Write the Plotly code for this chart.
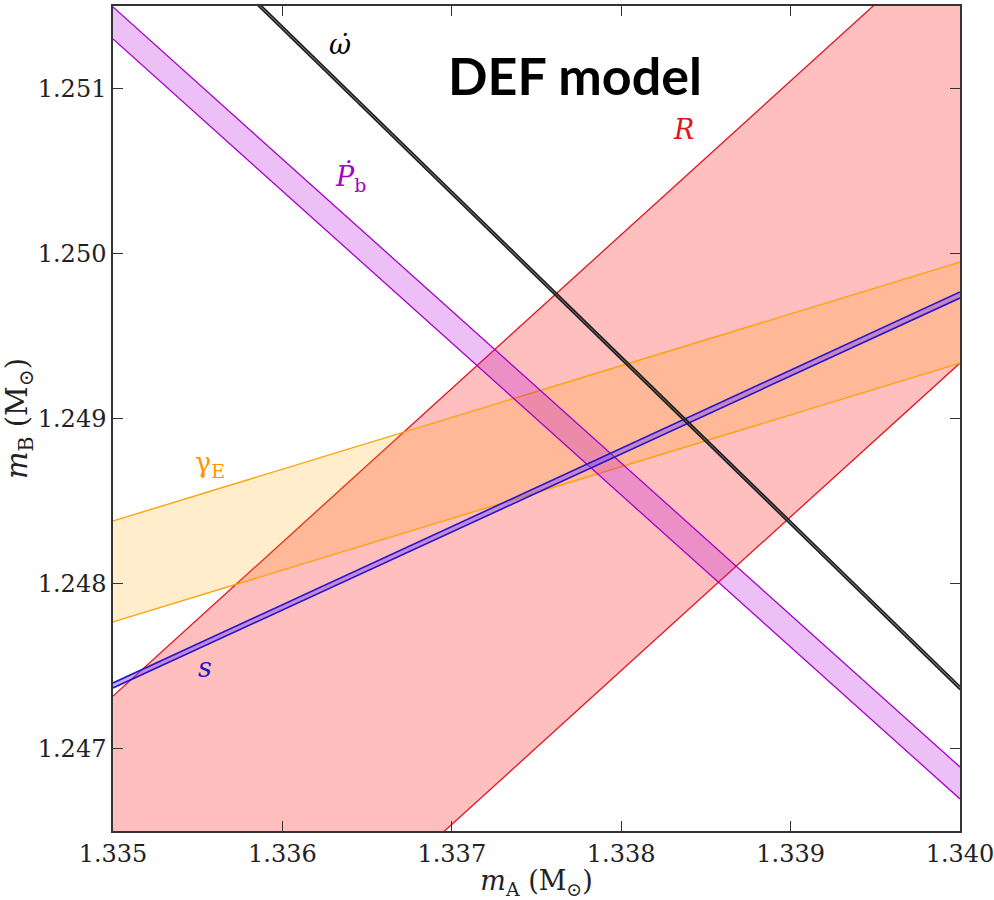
import plotly.graph_objects as go

# Band edges evaluated at the two ends of the m_A range
mA_ends = [1.335, 1.340]

R_upper = [1.247318, 1.251978]
R_lower = [1.244676, 1.249336]

gammaE_upper = [1.248379, 1.249948]
gammaE_lower = [1.247767, 1.249336]

Pbdot_upper = [1.251494, 1.246888]
Pbdot_lower = [1.251300, 1.246694]

s_upper = [1.247397, 1.249767]
s_lower = [1.247367, 1.249730]

omdot_upper = [1.252378, 1.247377]
omdot_lower = [1.252358, 1.247357]

x_range = [1.335, 1.340]
y_range = [1.2465, 1.2515]
x_ticks = [1.335, 1.336, 1.337, 1.338, 1.339, 1.340]
y_ticks = [1.247, 1.248, 1.249, 1.250, 1.251]

fig = go.Figure()


def band(upper, lower, line_color, fill_color, width=1.3):
    xs = mA_ends + mA_ends[::-1]
    ys = upper + lower[::-1]
    fig.add_trace(go.Scatter(x=xs + [xs[0]], y=ys + [ys[0]], mode="lines",
                             fill="toself", fillcolor=fill_color,
                             line=dict(width=0), hoverinfo="skip", showlegend=False))
    for edge in (upper, lower):
        fig.add_trace(go.Scatter(x=mA_ends, y=edge, mode="lines",
                                 line=dict(color=line_color, width=width),
                                 hoverinfo="skip", showlegend=False))


band(R_upper, R_lower, "rgb(225,20,30)", "rgba(255,0,0,0.25)")
band(gammaE_upper, gammaE_lower, "rgb(255,160,0)", "rgba(255,165,0,0.2)")
band(Pbdot_upper, Pbdot_lower, "rgb(165,0,200)", "rgba(180,0,220,0.25)")
band(s_upper, s_lower, "rgb(40,20,200)", "rgba(120,70,255,0.45)", width=1.6)
band(omdot_upper, omdot_lower, "rgb(30,30,30)", "rgba(60,60,60,0.6)", width=1.6)

serif = "DejaVu Serif"
labels = [
    ("<i>ω̇</i>", 1.33634, 1.251264, "black"),
    ("<i>Ṗ</i><sub>b</sub>", 1.3364, 1.25046, "rgb(165,0,200)"),
    ("<i>R</i>", 1.338365, 1.25075, "rgb(225,20,30)"),
    ("γ<sub>E</sub>", 1.335573, 1.24872, "rgb(255,150,0)"),
    ("<i>s</i>", 1.335543, 1.247488, "rgb(40,20,200)"),
]
for txt, lx, ly, col in labels:
    fig.add_annotation(x=lx, y=ly, text=txt, showarrow=False,
                       xanchor="center", yanchor="middle",
                       font=dict(family=serif, size=27, color=col))

fig.add_annotation(xref="paper", yref="paper", x=0.5455, y=0.916,
                   xanchor="center", yanchor="middle",
                   text="<b>DEF model</b>", showarrow=False,
                   font=dict(family="Lato", size=52, color="black"))

axis_common = dict(showgrid=False, zeroline=False, showline=True, linecolor="#333",
                   linewidth=1.5, mirror="ticks", ticks="inside", ticklen=10,
                   tickwidth=1.2, tickcolor="#333", automargin=False,
                   tickfont=dict(family=serif, size=24, color="#222"))

fig.update_xaxes(range=x_range, tickvals=x_ticks,
                 ticktext=[f"{v:.3f}" for v in x_ticks],
                 ticklabeloverflow="allow",
                 title=dict(text="<i>m</i><sub>A</sub> (M<sub>⊙</sub>)",
                            font=dict(family=serif, size=27, color="#222")),
                 **axis_common)
fig.update_yaxes(range=y_range, tickvals=y_ticks,
                 ticktext=[f"{v:.3f}" for v in y_ticks],
                 title=dict(text="<i>m</i><sub>B</sub> (M<sub>⊙</sub>)",
                            font=dict(family=serif, size=29, color="#222")),
                 **axis_common)

fig.update_layout(width=994, height=900, margin=dict(l=113, r=34, t=6, b=69),
                  plot_bgcolor="white", paper_bgcolor="white", showlegend=False)

fig.write_html("out.html")
